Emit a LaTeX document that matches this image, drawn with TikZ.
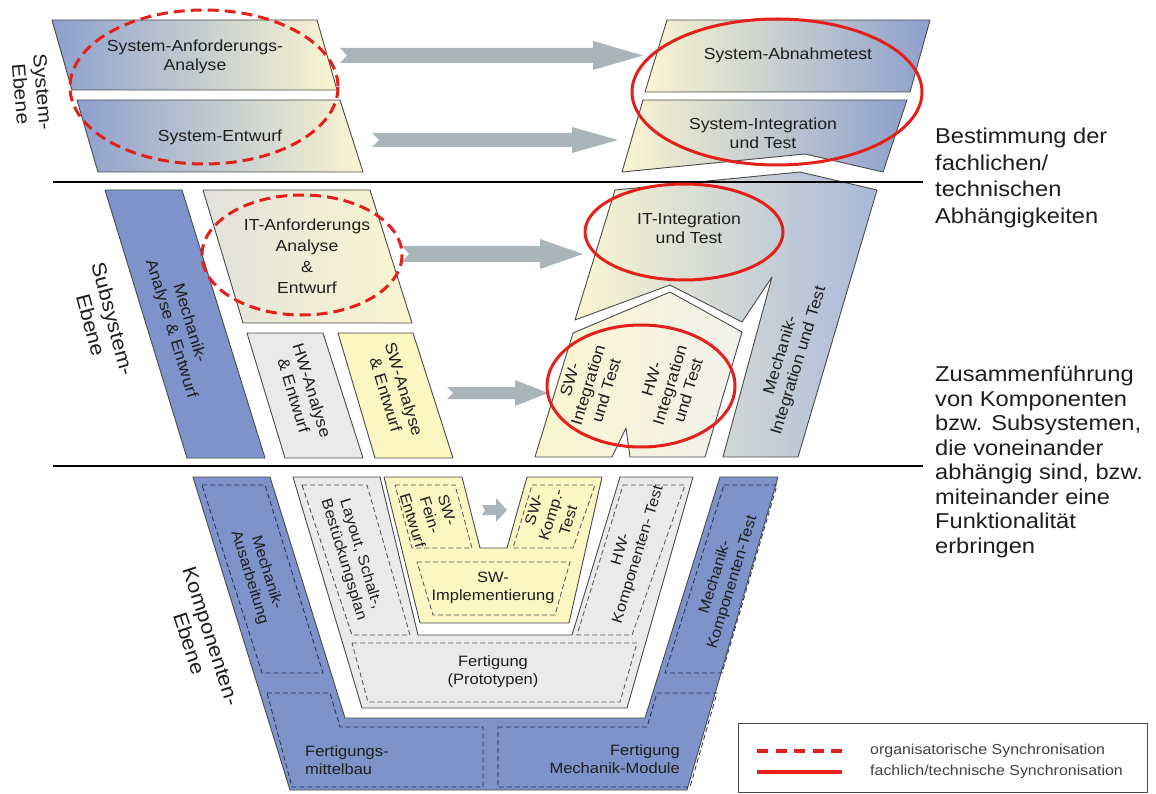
\documentclass[tikz,border=0pt]{standalone}
\usepackage{fontspec}
\setmainfont[FakeStretch=1.1]{Liberation Sans}

\definecolor{edgegray}{HTML}{4A4A4A}
\definecolor{dashgray}{HTML}{505050}
\definecolor{dashblue}{HTML}{1F2D58}
\definecolor{arrowgray}{HTML}{AAB5B9}
\definecolor{syncred}{HTML}{E3201B}
\definecolor{mechblue}{HTML}{7D93C9}
\definecolor{fadeblue}{HTML}{8DA0CE}
\definecolor{paleblue}{HTML}{A9B8DA}
\definecolor{paleyellow}{HTML}{FAF6D0}
\definecolor{swyellow}{HTML}{FBF6C2}
\definecolor{hwgray}{HTML}{EAEAEA}
\definecolor{itgray}{HTML}{E2E2DC}
\definecolor{midwhite}{HTML}{F1F1EC}
\definecolor{textdark}{HTML}{1E1E1E}

\begin{document}
\begin{tikzpicture}[
        x=1pt, y=-1pt,
        outline/.style={draw=edgegray, line width=0.9pt, line join=round},
        graydash/.style={draw=dashgray, line width=0.8pt, dash pattern=on 5pt off 3pt},
        bluedash/.style={draw=dashblue, line width=0.8pt, dash pattern=on 5pt off 3pt},
        blockarrow/.style={fill=arrowgray},
        orgsync/.style={draw=syncred, line width=3pt, dash pattern=on 11pt off 6pt},
        techsync/.style={draw=syncred, line width=3pt},
        sepline/.style={draw=black, line width=2.5pt},
        label/.style={align=center, inner sep=0pt, text=textdark, font=\fontsize{16}{19}\selectfont},
        smalllabel/.style={align=center, inner sep=0pt, text=textdark, font=\fontsize{15}{18}\selectfont},
        level/.style={align=center, inner sep=0pt, text=textdark, font=\fontsize{20}{23}\selectfont},
        note/.style={align=left, anchor=north west, inner sep=0pt, text=textdark},
        legendtext/.style={anchor=west, inner sep=0pt, text=textdark!85, font=\fontsize{14.5}{17}\selectfont},
    ]
    \useasboundingbox (0,0) rectangle (1156,794);

    % System-Ebene
    \draw[outline, left color=fadeblue, middle color=midwhite, right color=paleyellow]
        (52,20) -- (317,20) -- (337,90) -- (72,90) -- cycle;
    \draw[outline, left color=fadeblue, middle color=midwhite, right color=paleyellow]
        (77,100) -- (340,100) -- (363,172) -- (98,172) -- cycle;
    \draw[outline, left color=paleyellow, middle color=midwhite, right color=fadeblue]
        (667,20) -- (930,20) -- (910,92) -- (645,92) -- cycle;
    \draw[outline, left color=paleyellow, middle color=midwhite, right color=fadeblue]
        (643,100) -- (907,100) -- (883,172) -- (805,154) -- (622,172) -- cycle;

    % Subsystem-Ebene
    \draw[outline, fill=mechblue] (105,190) -- (182,190) -- (265,458) -- (187,458) -- cycle;
    \draw[outline, left color=itgray, right color=paleyellow]
        (203,190) -- (370,190) -- (412,323) -- (243,323) -- cycle;
    \draw[outline, fill=hwgray] (247,333) -- (323,333) -- (363,458) -- (285,458) -- cycle;
    \draw[outline, fill=swyellow] (338,333) -- (413,333) -- (453,458) -- (375,458) -- cycle;
    \draw[outline, left color=paleyellow, middle color=midwhite, right color=paleblue]
        (615,190) -- (800,172) -- (877,190) -- (798,457) -- (723,457) -- (772,277)
        -- (742,322) -- (670,285) -- (575,320) -- cycle;
    \draw[outline, left color=paleyellow, right color=midwhite]
        (573,333) -- (670,292) -- (742,332) -- (705,457) -- (630,457) -- (626,428)
        -- (612,457) -- (535,457) -- cycle;

    % Komponenten-Ebene
    \draw[outline, fill=mechblue] (193,477) -- (290,790) -- (687,790) -- (778,477) -- (720,477)
        -- (645,718) -- (345,718) -- (270,477) -- cycle;
    \draw[outline, fill=hwgray] (293,477) -- (362,708) -- (627,708) -- (693,477) -- (620,477)
        -- (572,635) -- (418,635) -- (380,477) -- cycle;
    \draw[outline, fill=swyellow] (384,477) -- (462,477) -- (480,548) -- (507,548) -- (527,477)
        -- (602,477) -- (569,623) -- (420,623) -- cycle;

    \draw[bluedash] (202,485) -- (265,485) -- (323,673) -- (262,673) -- cycle;
    \draw[bluedash] (267,693) -- (330,693) -- (340,727) -- (483,727) -- (483,787) -- (292,787) -- cycle;
    \draw[bluedash] (498,727) -- (647,727) -- (657,693) -- (717,693) -- (690,787) -- (498,787) -- cycle;
    \draw[bluedash] (724,485) -- (777,485) -- (722,673) -- (665,673) -- cycle;
    \draw[graydash] (302,485) -- (367,485) -- (410,635) -- (352,635) -- cycle;
    \draw[graydash] (623,485) -- (685,485) -- (632,635) -- (577,635) -- cycle;
    \draw[graydash] (352,643) -- (637,643) -- (620,702) -- (368,702) -- cycle;
    \draw[graydash] (395,485) -- (455,485) -- (472,548) -- (412,548) -- cycle;
    \draw[graydash] (532,485) -- (595,485) -- (573,548) -- (513,548) -- cycle;
    \draw[graydash] (417,562) -- (570,562) -- (555,615) -- (433,615) -- cycle;

    % Pfeile
    \fill[blockarrow] (340,48) -- (593,48) -- (593,41) -- (643,55.5) -- (593,70) -- (593,63)
        -- (340,63) -- (347,55.5) -- cycle;
    \fill[blockarrow] (372,133) -- (572,133) -- (572,127) -- (618,140) -- (572,153) -- (572,147)
        -- (372,147) -- (379,140) -- cycle;
    \fill[blockarrow] (402,246) -- (540,246) -- (540,239) -- (583,254) -- (540,269) -- (540,262)
        -- (402,262) -- (409,254) -- cycle;
    \fill[blockarrow] (447,387) -- (515,387) -- (515,380) -- (548,393) -- (515,406) -- (515,399)
        -- (447,399) -- (453,393) -- cycle;
    \fill[blockarrow] (482,505) -- (496,505) -- (496,498) -- (507,510) -- (496,522) -- (496,515)
        -- (482,515) -- (485,510) -- cycle;

    % Ebenen-Trennlinien
    \draw[sepline] (53,182) -- (923,182);
    \draw[sepline] (53,466) -- (923,466);

    % Beschriftungen
    \node[level, rotate=-85, font=\fontsize{19}{22}\selectfont] (syslevel) at (32,93) {System-\\Ebene};
    \node[level, rotate=-75] (sublevel) at (102,322) {Subsystem-\\Ebene};
    \node[level, rotate=-72] (complevel) at (200,640) {Komponenten-\\Ebene};

    \node[label] (sysanf) at (195,57) {System-Anforderungs-\\Analyse};
    \node[label] (sysentw) at (220,137) {System-Entwurf};
    \node[label] (sysabn) at (788,55) {System-Abnahmetest};
    \node[label] (sysint) at (763,133) {System-Integration\\und Test};
    \node[label, font=\fontsize{16}{21}\selectfont] (itanf) at (307,256) {IT-Anforderungs\\Analyse\\\&\\Entwurf};
    \node[label] (itint) at (689,228) {IT-Integration\\und Test};
    \node[label, rotate=-73] (mechanal) at (180,326) {Mechanik-\\Analyse \& Entwurf};
    \node[label, rotate=-73] (hwanal) at (303,393) {HW-Analyse\\\& Entwurf};
    \node[label, rotate=-73] (swanal) at (395,392) {SW-Analyse\\\& Entwurf};
    \node[label, rotate=73] (swint) at (588,385) {SW-\\Integration\\und Test};
    \node[label, rotate=73] (hwint) at (670,385) {HW-\\Integration\\und Test};
    \node[label, rotate=73] (mechint) at (790,358) {Mechanik-\\Integration und Test};

    \node[smalllabel, rotate=-73] (mechaus) at (258,575) {Mechanik-\\Ausarbeitung};
    \node[smalllabel, rotate=-73] (layout) at (352,557) {Layout, Schalt-,\\Bestückungsplan};
    \node[smalllabel, rotate=-73] (swfein) at (430,515) {SW-\\Fein-\\Entwurf};
    \node[smalllabel, rotate=73] (swkomp) at (551,515) {SW-\\Komp.-\\Test};
    \node[smalllabel] (swimpl) at (493,588) {SW-\\Implementierung};
    \node[smalllabel, rotate=73] (hwkomp) at (630,552) {HW-\\Komponenten- Test};
    \node[smalllabel, rotate=73] (mechkomp) at (724,580) {Mechanik-\\Komponenten-Test};
    \node[smalllabel] (fertproto) at (493,672) {Fertigung\\(Prototypen)};
    \node[smalllabel, align=left, anchor=west] (fertmittel) at (305,760) {Fertigungs-\\mittelbau};
    \node[smalllabel, align=right, anchor=east] (fertmech) at (680,759) {Fertigung\\Mechanik-Module};

    \node[note, font=\fontsize{21.5}{26.5}\selectfont] (dependnote) at (935,128)
        {Bestimmung der\\fachlichen/\\technischen\\Abhängigkeiten};
    \node[note, font=\fontsize{21.5}{24.5}\selectfont] (mergenote) at (935,366)
        {Zusammenführung\\von Komponenten\\bzw. Subsystemen,\\die voneinander\\abhängig sind, bzw.\\miteinander eine\\Funktionalität\\erbringen};

    % Synchronisation
    \draw[orgsync] (204,87) ellipse [x radius=134, y radius=77];
    \draw[orgsync] (302,255) ellipse [x radius=100, y radius=60];
    \draw[techsync] (777,92) ellipse [x radius=145, y radius=73];
    \draw[techsync] (684,232) ellipse [x radius=99, y radius=48];
    \draw[techsync] (641,386) ellipse [x radius=94, y radius=61];

    % Legende
    \draw[draw=edgegray, line width=0.9pt] (738,723) rectangle (1147,792);
    \coordinate (orgA) at (757,751);
    \coordinate (orgB) at (842,751);
    \coordinate (techA) at (757,772);
    \coordinate (techB) at (842,772);
    \draw[orgsync, line width=3.6pt, dash pattern=on 11pt off 7.5pt] (orgA) -- (orgB);
    \draw[techsync, line width=3.6pt] (techA) -- (techB);
    \node[legendtext] (orglabel) at (870,751) {organisatorische Synchronisation};
    \node[legendtext] (techlabel) at (870,772) {fachlich/technische Synchronisation};
\end{tikzpicture}
\end{document}
